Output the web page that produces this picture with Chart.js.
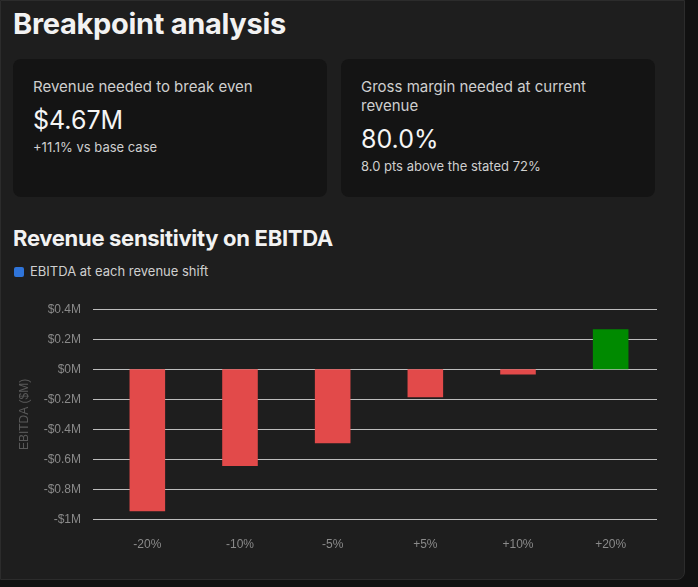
<!DOCTYPE html>
<html>
<head>
<meta charset="utf-8">
<script src="https://cdn.jsdelivr.net/npm/chart.js@4"></script>
<style>
body { margin: 0; background: #111; font-family: Inter, "Noto Sans", sans-serif; }
.page { position: absolute; left: 0; top: 0; width: 683px; height: 578px; background: #1e1e1e; border: 1px solid #2c2c2c; border-radius: 0 0 8px 0; }
h1 { position: absolute; left: 12px; top: 5px; margin: 0; color: #f2f2f2; font-size: 29px; font-weight: 700; letter-spacing: -0.3px; }
.card { position: absolute; top: 58px; width: 314px; height: 138px; background: #141414; border-radius: 8px; box-sizing: border-box; padding: 18px 20px; }
.lab { color: #cfcfcf; font-size: 15px; line-height: 19px; }
.big { color: #f5f5f5; font-size: 25px; margin-top: 9px; }
.sub { color: #cfcfcf; font-size: 13px; margin-top: 4px; }
h2 { position: absolute; left: 12px; top: 224px; margin: 0; color: #f2f2f2; font-size: 22px; font-weight: 700; letter-spacing: -0.3px; }
.leg { position: absolute; left: 13px; top: 262px; color: #cfcfcf; font-size: 13px; }
.leg span { display: inline-block; width: 10px; height: 10px; background: #2f74d9; border-radius: 2px; margin-right: 6px; vertical-align: -1px; }
.wrap { position: absolute; left: 12px; top: 289px; width: 654px; height: 272px; }
</style>
</head>
<body>
<div class="page">
<h1>Breakpoint analysis</h1>
<div class="card" style="left:12px"><div class="lab">Revenue needed to break even</div><div class="big">$4.67M</div><div class="sub">+11.1% vs base case</div></div>
<div class="card" style="left:340px"><div class="lab">Gross margin needed at current revenue</div><div class="big">80.0%</div><div class="sub">8.0 pts above the stated 72%</div></div>
<h2>Revenue sensitivity on EBITDA</h2>
<div class="leg"><span></span>EBITDA at each revenue shift</div>
<div class="wrap"><canvas id="grafica"></canvas></div>
</div>
<script>
const categorias = ['-20%', '-10%', '-5%', '+5%', '+10%', '+20%'];
const ebitda = [-0.945, -0.643, -0.492, -0.186, -0.035, 0.266];
const colores = ebitda.map(v => v < 0 ? '#e24a4a' : '#008a00');

const ctx = document.getElementById("grafica").getContext("2d");
const grafica = new Chart(ctx, {
    type: 'bar',
    data: {
        labels: categorias,
        datasets: [{
            label: 'EBITDA at each revenue shift',
            data: ebitda,
            backgroundColor: colores,
            categoryPercentage: 0.8,
            barPercentage: 0.48
        }]
    },
    options: {
        responsive: true,
        maintainAspectRatio: false,
        animation: false,
        layout: { padding: { top: 10, right: 10, left: 0 } },
        plugins: { legend: { display: false } },
        scales: {
            x: {
                grid: { display: false },
                border: { display: false },
                ticks: { color: '#8a8a8a', font: { size: 12 }, padding: 10 }
            },
            y: {
                min: -1, max: 0.4,
                grid: { color: '#bdbdbd', lineWidth: 1 },
                border: { display: false },
                title: { display: true, text: 'EBITDA ($M)', color: '#5a5a5a', font: { size: 12 } },
                afterFit: s => { s.width = 88; },
                ticks: {
                    stepSize: 0.2, color: '#8a8a8a', font: { size: 12 }, padding: 12,
                    callback: v => {
                        const r = Math.round(v * 10) / 10;
                        if (r === 0) return '$0M';
                        if (r === -1) return '-$1M';
                        return (r < 0 ? '-$' : '$') + Math.abs(r).toFixed(1) + 'M';
                    }
                }
            }
        }
    }
});
</script>
</body>
</html>
